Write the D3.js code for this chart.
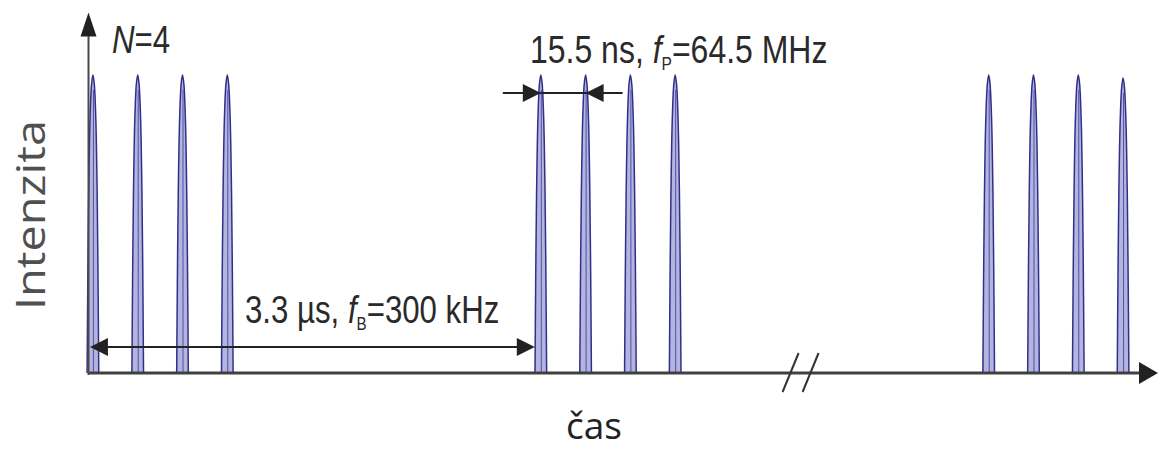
<!DOCTYPE html>
<html>
<head>
<meta charset="utf-8">
<script src="https://cdn.jsdelivr.net/npm/d3@7"></script>
<style>
  html, body { margin: 0; padding: 0; background: #fff; }
  svg { display: block; }
  .note { font-family: "Liberation Sans", Arial, sans-serif; font-size: 39px; fill: #2a2a2a; }
  .axlab { font-family: "Open Sans", sans-serif; }
</style>
</head>
<body>
<svg id="chart" width="1163" height="450"></svg>
<script>
  // pulse positions, in units of the pulse spacing (schematic, not to scale)
  const pulseTimes = [0, 1, 2, 3, 10, 11, 12, 13, 20, 21, 22, 23];
  const pulseAmps = [1, 1, 1, 1, 1, 1, 1, 1, 1, 1, 1, 0.99];
  // shape of one pulse: [offset, relative height]
  const pulseShape = [[-0.13, 0], [-0.115, 0.3], [-0.095, 0.6], [-0.065, 0.85], [-0.03, 0.97],
    [0, 1], [0.03, 0.97], [0.065, 0.85], [0.095, 0.6], [0.115, 0.3], [0.13, 0]];
  // dimension arrows: [from pulse, to pulse]
  const pulseSpacing = [10, 11];
  const burstPeriod = [0, 10];
  const breakAt = 15.8;

  const xLabel = 'čas';
  const yLabel = 'Intenzita';
  const burstText = [{t: 'N', i: true}, {t: '=4'}];
  const spacingText = [{t: '15.5 ns, '}, {t: 'f', i: true}, {t: 'P', sub: true}, {t: '=64.5 MHz'}];
  const periodText = [{t: '3.3 µs, '}, {t: 'f', i: true}, {t: 'B', sub: true}, {t: '=300 kHz'}];

  const svg = d3.select('#chart');
  const x = d3.scaleLinear().domain([-0.11, 23.78]).range([88, 1158]);
  const y = d3.scaleLinear().domain([0, 1]).range([373, 75]);
  const ink = '#222';

  // triangle with its tip at (tx,ty) pointing along (dx,dy)
  function head(tx, ty, dx, dy, len, half) {
    const bx = tx - dx * len, by = ty - dy * len;
    return `M${tx},${ty}L${bx - dy * half},${by + dx * half}L${bx + dy * half},${by - dx * half}Z`;
  }

  // pulses
  const pulseLine = d3.line()
    .x(d => x(d[0]))
    .y(d => y(d[1]))
    .curve(d3.curveCatmullRom);
  const pulses = svg.append('g');
  pulses.selectAll('path')
    .data(pulseTimes)
    .join('path')
    .attr('d', (t, i) => pulseLine(pulseShape.map(p => [t + p[0], p[1] * pulseAmps[i]])))
    .attr('fill', '#b4b4e0')
    .attr('stroke', '#30308a')
    .attr('stroke-width', 1.5);
  pulses.selectAll('line')
    .data(pulseTimes)
    .join('line')
    .attr('x1', t => x(t) + 0.5).attr('x2', t => x(t) + 0.5)
    .attr('y1', y(0)).attr('y2', (t, i) => y(pulseAmps[i] * 0.95))
    .attr('stroke', '#5050a4')
    .attr('stroke-width', 1);

  // axes (no ticks, just arrows)
  const x0 = x.range()[0], x1 = x.range()[1];
  const yTip = y(1.21);
  svg.append('line')
    .attr('x1', x0).attr('x2', x1 - 14)
    .attr('y1', y(0)).attr('y2', y(0))
    .attr('stroke', '#404040').attr('stroke-width', 3);
  svg.append('path').attr('d', head(x1, y(0), 1, 0, 19, 11)).attr('fill', ink);
  svg.append('line')
    .attr('x1', x0 + 0.5).attr('x2', x0 + 0.5)
    .attr('y1', y(0) + 2).attr('y2', yTip + 18)
    .attr('stroke', '#4a4a4a').attr('stroke-width', 2);
  svg.append('path').attr('d', head(x0 + 0.5, yTip, 0, -1, 24, 8)).attr('fill', ink);

  // axis break
  svg.append('g').selectAll('line')
    .data([-10, 10])
    .join('line')
    .attr('x1', d => x(breakAt) + d + 8).attr('y1', y(0) - 20)
    .attr('x2', d => x(breakAt) + d - 8).attr('y2', y(0) + 19)
    .attr('stroke', '#333').attr('stroke-width', 2);

  // pulse spacing arrow
  const ys = y(0.94);
  svg.append('line')
    .attr('x1', x(pulseSpacing[0]) - 38).attr('x2', x(pulseSpacing[1]) + 37)
    .attr('y1', ys).attr('y2', ys)
    .attr('stroke', ink).attr('stroke-width', 2);
  svg.append('path').attr('d', head(x(pulseSpacing[0]), ys, 1, 0, 18, 9)).attr('fill', ink);
  svg.append('path').attr('d', head(x(pulseSpacing[1]), ys, -1, 0, 18, 9)).attr('fill', ink);

  // burst period arrow
  const yp = y(0.087);
  const pl = x(burstPeriod[0]) - 3, pr = x(burstPeriod[1]) - 6;
  svg.append('line')
    .attr('x1', pl + 10).attr('x2', pr - 10)
    .attr('y1', yp).attr('y2', yp)
    .attr('stroke', ink).attr('stroke-width', 2);
  svg.append('path').attr('d', head(pl, yp, -1, 0, 18, 9)).attr('fill', ink);
  svg.append('path').attr('d', head(pr, yp, 1, 0, 18, 9)).attr('fill', ink);

  // annotation texts, slightly condensed
  function note(parts, tx, ty, sx) {
    const t = svg.append('g')
      .attr('transform', `translate(${tx},${ty}) scale(${sx},1)`)
      .append('text').attr('class', 'note');
    let shifted = 0;
    parts.forEach(p => {
      const s = t.append('tspan').text(p.t);
      if (p.i) s.attr('font-style', 'italic');
      if (p.sub) { s.attr('font-size', 19).attr('dy', 7); shifted = 7; }
      else if (shifted) { s.attr('dy', -shifted); shifted = 0; }
    });
  }
  note(burstText, 112, 53, 0.8);
  note(spacingText, 530, 63, 0.82);
  note(periodText, 245, 323, 0.8);

  // axis labels
  svg.append('text')
    .attr('class', 'axlab')
    .attr('transform', 'translate(45,215) rotate(-90)')
    .attr('text-anchor', 'middle')
    .attr('font-size', 40)
    .attr('textLength', 190)
    .attr('lengthAdjust', 'spacingAndGlyphs')
    .attr('fill', '#505050')
    .text(yLabel);
  svg.append('text')
    .attr('class', 'axlab')
    .attr('x', 594).attr('y', 439)
    .attr('text-anchor', 'middle')
    .attr('font-size', 37)
    .attr('fill', '#222')
    .text(xLabel);
</script>
</body>
</html>
